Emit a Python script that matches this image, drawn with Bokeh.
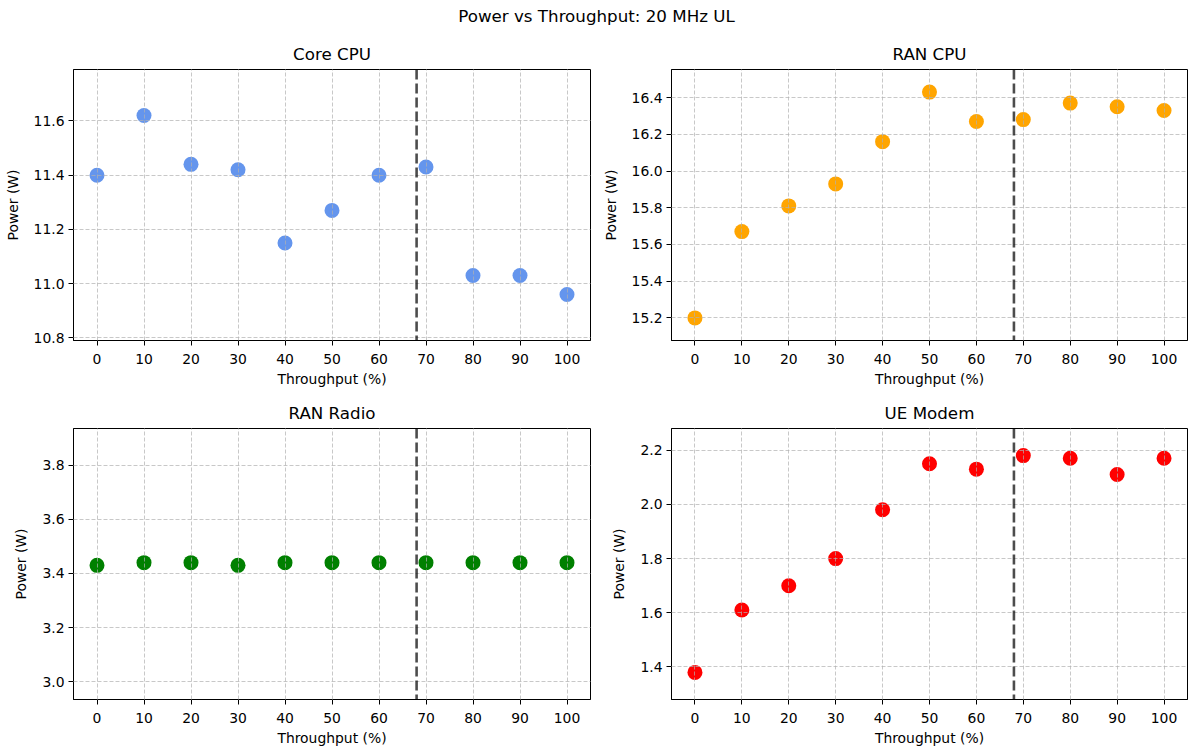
from bokeh.plotting import figure
from bokeh.layouts import column, row
from bokeh.models import Span, FixedTicker, SingleIntervalTicker, PrintfTickFormatter, Range1d
from bokeh.core.properties import value
from bokeh.embed import file_html
from bokeh.resources import INLINE

# ---- data ----
throughput = [0, 10, 20, 30, 40, 50, 60, 70, 80, 90, 100]
core_cpu = [11.40, 11.62, 11.44, 11.42, 11.15, 11.27, 11.40, 11.43, 11.03, 11.03, 10.96]
ran_cpu = [15.20, 15.67, 15.81, 15.93, 16.16, 16.43, 16.27, 16.28, 16.37, 16.35, 16.33]
ran_radio = [3.43, 3.44, 3.44, 3.43, 3.44, 3.44, 3.44, 3.44, 3.44, 3.44, 3.44]
ue_modem = [1.38, 1.61, 1.70, 1.80, 1.98, 2.15, 2.13, 2.18, 2.17, 2.11, 2.17]
titles = ["Core CPU", "RAN CPU", "RAN Radio", "UE Modem"]
colors = ["#6495ED", "#FFA500", "#008000", "#FF0000"]
threshold = 68
suptitle = "Power vs Throughput: 20 MHz UL"
x_label = "Throughput (%)"
y_label = "Power (W)"

FONT = "DejaVu Sans"


def make_panel(title, ys, color, fw, left, right, top, bottom):
    lo, hi = min(ys), max(ys)
    c = (lo + hi) / 2
    half = max(0.5, 0.6 * (hi - lo))
    p = figure(frame_width=fw, frame_height=271,
               x_range=Range1d(-5, 105), y_range=Range1d(c - half, c + half),
               toolbar_location=None, output_backend="svg",
               min_border_left=left, min_border_right=right,
               min_border_top=top, min_border_bottom=bottom,
               title=title)
    p.title.align = "center"
    p.title.text_font = FONT
    p.title.text_font_size = "16.7px"
    p.title.text_font_style = "normal"
    p.title.text_color = "black"
    p.title.standoff = 11
    p.outline_line_color = "black"
    p.outline_line_width = 1
    p.outline_line_alpha = 1

    p.scatter(throughput, ys, size=15, fill_color=color, line_color=None)

    for ax in (p.xaxis[0], p.yaxis[0]):
        ax.major_label_text_font = FONT
        ax.major_label_text_font_size = "13.9px"
        ax.major_label_text_color = "black"
        ax.axis_label_text_font = FONT
        ax.axis_label_text_font_size = "13.9px"
        ax.axis_label_text_font_style = "normal"
        ax.axis_label_text_color = "black"
        ax.major_tick_in = 0
        ax.major_tick_out = 5
        ax.minor_tick_line_color = None
        ax.axis_line_color = "black"
        ax.major_tick_line_color = "black"

    p.xaxis.major_label_standoff = 8
    p.xaxis.axis_label_standoff = 4
    p.yaxis.major_label_standoff = 4
    p.yaxis.axis_label_standoff = 10

    p.xaxis.ticker = FixedTicker(ticks=throughput)
    p.xaxis.axis_label = x_label
    p.yaxis.ticker = SingleIntervalTicker(interval=0.2)
    p.yaxis.formatter = PrintfTickFormatter(format="%.1f")
    p.yaxis.axis_label = y_label

    for g in (p.xgrid[0], p.ygrid[0]):
        g.grid_line_color = "#b0b0b0"
        g.grid_line_alpha = 0.7
        g.grid_line_dash = "4 2"
        g.grid_line_width = 1
        g.level = "annotation"

    span = Span(location=threshold, dimension="height", line_color="black",
                line_alpha=0.7, line_width=2.6, line_dash="10 4", level="overlay")
    p.add_layout(span)
    return p


p1 = make_panel(titles[0], core_cpu, colors[0], 517, 73, 9, 33, 55)
p2 = make_panel(titles[1], ran_cpu, colors[1], 516, 72, 4, 33, 55)
p3 = make_panel(titles[2], ran_radio, colors[2], 517, 73, 9, 33, 44)
p4 = make_panel(titles[3], ue_modem, colors[3], 516, 72, 4, 33, 44)

t = figure(width=1191, height=36, x_range=Range1d(0, 1191), y_range=Range1d(0, 36),
           toolbar_location=None, output_backend="svg", min_border=0)
t.outline_line_color = None
t.axis.visible = False
t.grid.visible = False
t.text(x=[596], y=[21], text=[suptitle], text_align="center", text_baseline="middle",
       text_font=value(FONT), text_font_size="16.7px", text_color="black")

layout = column(t, row(p1, p2), row(p3, p4))

open("out.html", "w").write(file_html(layout, INLINE))
